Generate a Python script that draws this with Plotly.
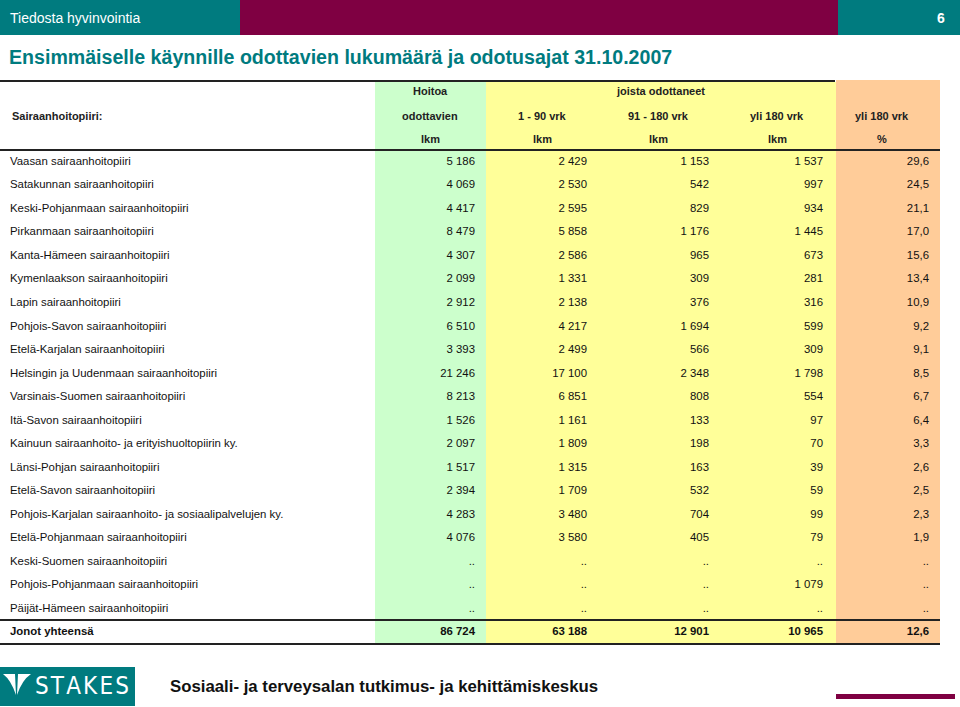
import plotly.graph_objects as go

# ── Data ────────────────────────────────────────────────────────────────
districts = [
    "Vaasan sairaanhoitopiiri",
    "Satakunnan sairaanhoitopiiri",
    "Keski-Pohjanmaan sairaanhoitopiiri",
    "Pirkanmaan sairaanhoitopiiri",
    "Kanta-Hämeen sairaanhoitopiiri",
    "Kymenlaakson sairaanhoitopiiri",
    "Lapin sairaanhoitopiiri",
    "Pohjois-Savon sairaanhoitopiiri",
    "Etelä-Karjalan sairaanhoitopiiri",
    "Helsingin ja Uudenmaan sairaanhoitopiiri",
    "Varsinais-Suomen sairaanhoitopiiri",
    "Itä-Savon sairaanhoitopiiri",
    "Kainuun sairaanhoito- ja erityishuoltopiirin ky.",
    "Länsi-Pohjan sairaanhoitopiiri",
    "Etelä-Savon sairaanhoitopiiri",
    "Pohjois-Karjalan sairaanhoito- ja sosiaalipalvelujen ky.",
    "Etelä-Pohjanmaan sairaanhoitopiiri",
    "Keski-Suomen sairaanhoitopiiri",
    "Pohjois-Pohjanmaan sairaanhoitopiiri",
    "Päijät-Hämeen sairaanhoitopiiri",
]
waiting_total = [5186, 4069, 4417, 8479, 4307, 2099, 2912, 6510, 3393, 21246,
                 8213, 1526, 2097, 1517, 2394, 4283, 4076, None, None, None]
waited_1_90 = [2429, 2530, 2595, 5858, 2586, 1331, 2138, 4217, 2499, 17100,
               6851, 1161, 1809, 1315, 1709, 3480, 3580, None, None, None]
waited_91_180 = [1153, 542, 829, 1176, 965, 309, 376, 1694, 566, 2348,
                 808, 133, 198, 163, 532, 704, 405, None, None, None]
waited_over_180 = [1537, 997, 934, 1445, 673, 281, 316, 599, 309, 1798,
                   554, 97, 70, 39, 59, 99, 79, None, 1079, None]
pct_over_180 = [29.6, 24.5, 21.1, 17.0, 15.6, 13.4, 10.9, 9.2, 9.1, 8.5,
                6.7, 6.4, 3.3, 2.6, 2.5, 2.3, 1.9, None, None, None]

total_label = "Jonot yhteensä"
totals = [86724, 63188, 12901, 10965]
total_pct = 12.6

TEAL = "#007b7f"
MAROON = "#7f0042"
GREEN = "#ccffcc"
YELLOW = "#ffff99"
ORANGE = "#ffcc99"
TXT = "#111111"
FONT = "Liberation Sans, Arial, sans-serif"
BODY_SIZE = 11.4


def fmt_int(v):
    return ".." if v is None else f"{v:,}".replace(",", " ")


def fmt_pct(v):
    return ".." if v is None else f"{v:.1f}".replace(".", ",")


# row positions on a pixel axis (top = 0)
row_y = [162 + i * 23.53 for i in range(len(districts))]
total_y = 632

fig = go.Figure()

shapes = [
    # column backgrounds
    dict(type="rect", x0=375, x1=486, y0=82, y1=644, fillcolor=GREEN, line_width=0, layer="below"),
    dict(type="rect", x0=486, x1=836, y0=82, y1=644, fillcolor=YELLOW, line_width=0, layer="below"),
    dict(type="rect", x0=836, x1=940, y0=80, y1=644, fillcolor=ORANGE, line_width=0, layer="below"),
    # top banner
    dict(type="rect", x0=0, x1=240, y0=0, y1=35, fillcolor=TEAL, line_width=0),
    dict(type="rect", x0=240, x1=838, y0=0, y1=35, fillcolor=MAROON, line_width=0),
    dict(type="rect", x0=838, x1=960, y0=0, y1=35, fillcolor=TEAL, line_width=0),
    # table rules
    dict(type="line", x0=0, x1=835, y0=81, y1=81, line=dict(color="#222", width=2)),
    dict(type="line", x0=0, x1=940, y0=150, y1=150, line=dict(color="#222", width=2)),
    dict(type="line", x0=0, x1=940, y0=620, y1=620, line=dict(color="#222", width=2)),
    dict(type="line", x0=0, x1=940, y0=644, y1=644, line=dict(color="#222", width=2)),
    # footer logo + accent bar
    dict(type="rect", x0=0, x1=135, y0=667, y1=706, fillcolor=TEAL, line_width=0),
    dict(type="path", path="M 3 674 L 15 674 L 16 695 Q 11 680 3 674 Z",
         fillcolor="white", line_width=0),
    dict(type="path", path="M 18 674 L 31 674 Q 22 680 17 695 Z",
         fillcolor="white", line_width=0),
    dict(type="rect", x0=836, x1=955, y0=694, y1=699, fillcolor=MAROON, line_width=0),
]

# district names
fig.add_trace(go.Scatter(
    x=[10] * len(districts), y=row_y, text=districts, mode="text",
    textposition="middle right", textfont=dict(family=FONT, size=BODY_SIZE, color=TXT),
    hoverinfo="skip", showlegend=False,
))

value_cols = [
    (475, [fmt_int(v) for v in waiting_total]),
    (587, [fmt_int(v) for v in waited_1_90]),
    (709, [fmt_int(v) for v in waited_91_180]),
    (823, [fmt_int(v) for v in waited_over_180]),
    (929, [fmt_pct(v) for v in pct_over_180]),
]
for xr, texts in value_cols:
    fig.add_trace(go.Scatter(
        x=[xr] * len(texts), y=row_y, text=texts, mode="text",
        textposition="middle left", textfont=dict(family=FONT, size=BODY_SIZE, color=TXT),
        hoverinfo="skip", showlegend=False,
    ))

# totals row
fig.add_trace(go.Scatter(
    x=[10], y=[total_y], text=[f"<b>{total_label}</b>"], mode="text",
    textposition="middle right", textfont=dict(family=FONT, size=BODY_SIZE, color=TXT),
    hoverinfo="skip", showlegend=False,
))
total_texts = [fmt_int(v) for v in totals] + [fmt_pct(total_pct)]
fig.add_trace(go.Scatter(
    x=[xr for xr, _ in value_cols], y=[total_y] * 5,
    text=[f"<b>{t}</b>" for t in total_texts], mode="text",
    textposition="middle left", textfont=dict(family=FONT, size=BODY_SIZE, color=TXT),
    hoverinfo="skip", showlegend=False,
))

# header annotations
hdr = dict(size=11, family=FONT, color="#222")
annotations = []


def add_text(x, y, text, xanchor="center", font=None):
    annotations.append(dict(x=x, y=y, xref="x", yref="y", text=text, showarrow=False,
                            xanchor=xanchor, yanchor="middle", font=font or hdr))


add_text(430, 91, "<b>Hoitoa</b>")
add_text(660, 91, "<b>joista odottaneet</b>")
add_text(10, 116, "<b>Sairaanhoitopiiri:</b>", xanchor="left")
for x, t in [(430, "odottavien"), (542, "1 - 90 vrk"), (658, "91 - 180 vrk"),
             (777, "yli 180 vrk"), (882, "yli 180 vrk")]:
    add_text(x, 116, f"<b>{t}</b>")
for x, t in [(430, "lkm"), (542, "lkm"), (658, "lkm"), (777, "lkm"), (882, "%")]:
    add_text(x, 139, f"<b>{t}</b>")

# banner + title + footer
add_text(8, 18, "Tiedosta hyvinvointia", xanchor="left",
         font=dict(family=FONT, size=14, color="white"))
add_text(947, 18, "<b>6</b>", xanchor="right",
         font=dict(family=FONT, size=14, color="white"))
add_text(7, 57, "<b>Ensimmäiselle käynnille odottavien lukumäärä ja odotusajat 31.10.2007</b>",
         xanchor="left", font=dict(family=FONT, size=19.6, color=TEAL))
add_text(33, 686, "S\u200aT\u200aA\u200aK\u200aE\u200aS", xanchor="left",
         font=dict(family="DejaVu Sans Condensed, DejaVu Sans", size=24, color="white"))
add_text(168, 686, "<b>Sosiaali- ja terveysalan tutkimus- ja kehittämiskeskus</b>", xanchor="left",
         font=dict(family=FONT, size=16.8, color="#111"))

fig.update_layout(
    width=960, height=707,
    margin=dict(l=0, r=0, t=0, b=0),
    plot_bgcolor="white", paper_bgcolor="white",
    shapes=shapes, annotations=annotations,
    xaxis=dict(range=[0, 960], visible=False, fixedrange=True),
    yaxis=dict(range=[707, 0], visible=False, fixedrange=True),
)

# drop the default 8px page margin so the figure fills the window exactly
fig.write_html("out.html", config={"displayModeBar": False},
               post_script="document.body.style.margin='0';")
